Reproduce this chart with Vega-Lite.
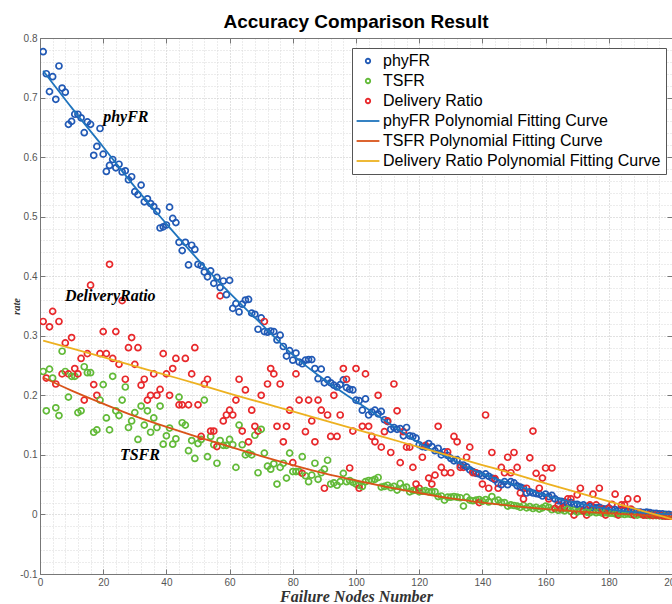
{
  "$schema": "https://vega.github.io/schema/vega-lite/v6.json",
  "width": 632,
  "height": 536,
  "autosize": {"type": "none"},
  "padding": {"left": 40, "top": 38, "right": 0, "bottom": 30},
  "background": "white",
  "title": {"text": "Accuracy Comparison Result", "font": "Liberation Sans", "fontSize": 19, "fontWeight": "bold", "color": "#000000", "anchor": "middle", "offset": 1},
  "config": {"view": {"stroke": null}},
  "datasets": {
    "pts": [
      {"x":1,"phyFR":0.777,"TSFR":0.240,"Delivery Ratio":0.324},
      {"x":2,"phyFR":0.740,"TSFR":0.174,"Delivery Ratio":0.229},
      {"x":3,"phyFR":0.710,"TSFR":0.244,"Delivery Ratio":0.315},
      {"x":4,"phyFR":0.735,"TSFR":0.229,"Delivery Ratio":0.341},
      {"x":5,"phyFR":0.697,"TSFR":0.179,"Delivery Ratio":0.219},
      {"x":6,"phyFR":0.753,"TSFR":0.166,"Delivery Ratio":0.324},
      {"x":7,"phyFR":0.716,"TSFR":0.274,"Delivery Ratio":0.236},
      {"x":8,"phyFR":0.709,"TSFR":0.240,"Delivery Ratio":0.288},
      {"x":9,"phyFR":0.655,"TSFR":0.197,"Delivery Ratio":0.236},
      {"x":10,"phyFR":0.660,"TSFR":0.232,"Delivery Ratio":0.297},
      {"x":11,"phyFR":0.672,"TSFR":0.232,"Delivery Ratio":0.245},
      {"x":12,"phyFR":0.672,"TSFR":0.171,"Delivery Ratio":0.236},
      {"x":13,"phyFR":0.666,"TSFR":0.174,"Delivery Ratio":0.262},
      {"x":14,"phyFR":0.641,"TSFR":0.248,"Delivery Ratio":0.192},
      {"x":15,"phyFR":0.659,"TSFR":0.238,"Delivery Ratio":0.270},
      {"x":16,"phyFR":0.655,"TSFR":0.238,"Delivery Ratio":0.385},
      {"x":17,"phyFR":0.603,"TSFR":0.138,"Delivery Ratio":0.218},
      {"x":18,"phyFR":0.618,"TSFR":0.142,"Delivery Ratio":0.200},
      {"x":19,"phyFR":0.648,"TSFR":0.192,"Delivery Ratio":0.270},
      {"x":20,"phyFR":0.605,"TSFR":0.218,"Delivery Ratio":0.307},
      {"x":21,"phyFR":0.576,"TSFR":0.162,"Delivery Ratio":0.270},
      {"x":22,"phyFR":0.586,"TSFR":0.142,"Delivery Ratio":0.420},
      {"x":23,"phyFR":0.596,"TSFR":0.232,"Delivery Ratio":0.262},
      {"x":24,"phyFR":0.582,"TSFR":0.174,"Delivery Ratio":0.307},
      {"x":25,"phyFR":0.588,"TSFR":0.166,"Delivery Ratio":0.252},
      {"x":26,"phyFR":0.575,"TSFR":0.192,"Delivery Ratio":0.359},
      {"x":27,"phyFR":0.577,"TSFR":0.214,"Delivery Ratio":0.227},
      {"x":28,"phyFR":0.562,"TSFR":0.146,"Delivery Ratio":0.280},
      {"x":29,"phyFR":0.567,"TSFR":0.157,"Delivery Ratio":0.297},
      {"x":30,"phyFR":0.542,"TSFR":0.171,"Delivery Ratio":0.252},
      {"x":31,"phyFR":0.537,"TSFR":0.126,"Delivery Ratio":0.280},
      {"x":32,"phyFR":0.553,"TSFR":0.182,"Delivery Ratio":0.217},
      {"x":33,"phyFR":0.525,"TSFR":0.150,"Delivery Ratio":0.227},
      {"x":34,"phyFR":0.530,"TSFR":0.174,"Delivery Ratio":0.192},
      {"x":35,"phyFR":0.522,"TSFR":0.138,"Delivery Ratio":0.200},
      {"x":36,"phyFR":0.517,"TSFR":0.162,"Delivery Ratio":0.236},
      {"x":37,"phyFR":0.509,"TSFR":0.146,"Delivery Ratio":0.200},
      {"x":38,"phyFR":0.481,"TSFR":0.182,"Delivery Ratio":0.210},
      {"x":39,"phyFR":0.483,"TSFR":0.118,"Delivery Ratio":0.270},
      {"x":40,"phyFR":0.486,"TSFR":0.132,"Delivery Ratio":0.236},
      {"x":41,"phyFR":0.516,"TSFR":0.145,"Delivery Ratio":0.200},
      {"x":42,"phyFR":0.497,"TSFR":0.118,"Delivery Ratio":0.245},
      {"x":43,"phyFR":0.490,"TSFR":0.127,"Delivery Ratio":0.262},
      {"x":44,"phyFR":0.457,"TSFR":0.197,"Delivery Ratio":0.184},
      {"x":45,"phyFR":0.443,"TSFR":0.154,"Delivery Ratio":0.184},
      {"x":46,"phyFR":0.457,"TSFR":0.150,"Delivery Ratio":0.262},
      {"x":47,"phyFR":0.419,"TSFR":0.107,"Delivery Ratio":0.184},
      {"x":48,"phyFR":0.452,"TSFR":0.124,"Delivery Ratio":0.236},
      {"x":49,"phyFR":0.445,"TSFR":0.094,"Delivery Ratio":0.280},
      {"x":50,"phyFR":0.420,"TSFR":0.119,"Delivery Ratio":0.184},
      {"x":51,"phyFR":0.418,"TSFR":0.126,"Delivery Ratio":0.131},
      {"x":52,"phyFR":0.407,"TSFR":0.192,"Delivery Ratio":0.219},
      {"x":53,"phyFR":0.399,"TSFR":0.097,"Delivery Ratio":0.227},
      {"x":54,"phyFR":0.409,"TSFR":0.131,"Delivery Ratio":0.140},
      {"x":55,"phyFR":0.388,"TSFR":0.117,"Delivery Ratio":0.140},
      {"x":56,"phyFR":0.398,"TSFR":0.086,"Delivery Ratio":0.114},
      {"x":57,"phyFR":0.381,"TSFR":0.124,"Delivery Ratio":0.367},
      {"x":58,"phyFR":0.392,"TSFR":0.116,"Delivery Ratio":0.157},
      {"x":59,"phyFR":0.369,"TSFR":0.116,"Delivery Ratio":0.167},
      {"x":60,"phyFR":0.393,"TSFR":0.126,"Delivery Ratio":0.175},
      {"x":61,"phyFR":0.346,"TSFR":0.117,"Delivery Ratio":0.167},
      {"x":62,"phyFR":0.354,"TSFR":0.079,"Delivery Ratio":0.192},
      {"x":63,"phyFR":0.340,"TSFR":0.150,"Delivery Ratio":0.227},
      {"x":64,"phyFR":0.353,"TSFR":0.117,"Delivery Ratio":0.140},
      {"x":65,"phyFR":0.360,"TSFR":0.100,"Delivery Ratio":0.209},
      {"x":66,"phyFR":0.361,"TSFR":0.103,"Delivery Ratio":0.122},
      {"x":67,"phyFR":0.338,"TSFR":0.100,"Delivery Ratio":0.175},
      {"x":68,"phyFR":0.336,"TSFR":0.133,"Delivery Ratio":0.148},
      {"x":69,"phyFR":0.311,"TSFR":0.070,"Delivery Ratio":0.140},
      {"x":70,"phyFR":0.330,"TSFR":0.143,"Delivery Ratio":0.200},
      {"x":71,"phyFR":0.307,"TSFR":0.103,"Delivery Ratio":0.324},
      {"x":72,"phyFR":0.306,"TSFR":0.081,"Delivery Ratio":0.219},
      {"x":73,"phyFR":0.308,"TSFR":0.076,"Delivery Ratio":0.245},
      {"x":74,"phyFR":0.307,"TSFR":0.085,"Delivery Ratio":0.236},
      {"x":75,"phyFR":0.293,"TSFR":0.051,"Delivery Ratio":0.148},
      {"x":76,"phyFR":0.301,"TSFR":0.079,"Delivery Ratio":0.219},
      {"x":77,"phyFR":0.282,"TSFR":0.086,"Delivery Ratio":0.122},
      {"x":78,"phyFR":0.266,"TSFR":0.061,"Delivery Ratio":0.148},
      {"x":79,"phyFR":0.275,"TSFR":0.103,"Delivery Ratio":0.175},
      {"x":80,"phyFR":0.259,"TSFR":0.072,"Delivery Ratio":0.087},
      {"x":81,"phyFR":0.271,"TSFR":0.072,"Delivery Ratio":0.236},
      {"x":82,"phyFR":0.256,"TSFR":0.072,"Delivery Ratio":0.192},
      {"x":83,"phyFR":0.253,"TSFR":0.097,"Delivery Ratio":0.069},
      {"x":84,"phyFR":0.259,"TSFR":0.065,"Delivery Ratio":0.139},
      {"x":85,"phyFR":0.260,"TSFR":0.055,"Delivery Ratio":0.192},
      {"x":86,"phyFR":0.260,"TSFR":0.066,"Delivery Ratio":0.157},
      {"x":87,"phyFR":0.245,"TSFR":0.086,"Delivery Ratio":0.122},
      {"x":88,"phyFR":0.228,"TSFR":0.059,"Delivery Ratio":0.192},
      {"x":89,"phyFR":0.244,"TSFR":0.070,"Delivery Ratio":0.175},
      {"x":90,"phyFR":0.221,"TSFR":0.076,"Delivery Ratio":0.044},
      {"x":91,"phyFR":0.226,"TSFR":0.091,"Delivery Ratio":0.167},
      {"x":92,"phyFR":0.221,"TSFR":0.051,"Delivery Ratio":0.131},
      {"x":93,"phyFR":0.217,"TSFR":0.053,"Delivery Ratio":0.200},
      {"x":94,"phyFR":0.214,"TSFR":0.049,"Delivery Ratio":0.131},
      {"x":95,"phyFR":0.218,"TSFR":0.055,"Delivery Ratio":0.167},
      {"x":96,"phyFR":0.226,"TSFR":0.069,"Delivery Ratio":0.245},
      {"x":97,"phyFR":0.213,"TSFR":0.055,"Delivery Ratio":0.227},
      {"x":98,"phyFR":0.210,"TSFR":0.057,"Delivery Ratio":0.078},
      {"x":99,"phyFR":0.209,"TSFR":0.054,"Delivery Ratio":0.140},
      {"x":100,"phyFR":0.192,"TSFR":0.051,"Delivery Ratio":0.245},
      {"x":101,"phyFR":0.191,"TSFR":0.049,"Delivery Ratio":0.044},
      {"x":102,"phyFR":0.175,"TSFR":0.047,"Delivery Ratio":0.148},
      {"x":103,"phyFR":0.194,"TSFR":0.055,"Delivery Ratio":0.236},
      {"x":104,"phyFR":0.167,"TSFR":0.057,"Delivery Ratio":0.148},
      {"x":105,"phyFR":0.172,"TSFR":0.057,"Delivery Ratio":0.131},
      {"x":106,"phyFR":0.175,"TSFR":0.059,"Delivery Ratio":0.122},
      {"x":107,"phyFR":0.169,"TSFR":0.062,"Delivery Ratio":0.200},
      {"x":108,"phyFR":0.173,"TSFR":0.046,"Delivery Ratio":0.113},
      {"x":109,"phyFR":0.159,"TSFR":0.047,"Delivery Ratio":0.139},
      {"x":110,"phyFR":0.156,"TSFR":0.049,"Delivery Ratio":0.157},
      {"x":111,"phyFR":0.143,"TSFR":0.045,"Delivery Ratio":0.104},
      {"x":112,"phyFR":0.146,"TSFR":0.047,"Delivery Ratio":0.219},
      {"x":113,"phyFR":0.143,"TSFR":0.041,"Delivery Ratio":0.174},
      {"x":114,"phyFR":0.144,"TSFR":0.052,"Delivery Ratio":0.087},
      {"x":115,"phyFR":0.132,"TSFR":0.045,"Delivery Ratio":0.139},
      {"x":116,"phyFR":0.146,"TSFR":0.046,"Delivery Ratio":0.113},
      {"x":117,"phyFR":0.132,"TSFR":0.038,"Delivery Ratio":0.113},
      {"x":118,"phyFR":0.131,"TSFR":0.040,"Delivery Ratio":0.079},
      {"x":119,"phyFR":0.128,"TSFR":0.041,"Delivery Ratio":0.051},
      {"x":120,"phyFR":0.117,"TSFR":0.038,"Delivery Ratio":0.044},
      {"x":121,"phyFR":0.114,"TSFR":0.039,"Delivery Ratio":0.096},
      {"x":122,"phyFR":0.113,"TSFR":0.040,"Delivery Ratio":0.116},
      {"x":123,"phyFR":0.119,"TSFR":0.038,"Delivery Ratio":0.061},
      {"x":124,"phyFR":0.114,"TSFR":0.038,"Delivery Ratio":0.051},
      {"x":125,"phyFR":0.107,"TSFR":0.038,"Delivery Ratio":0.066},
      {"x":126,"phyFR":0.111,"TSFR":0.030,"Delivery Ratio":0.148},
      {"x":127,"phyFR":0.100,"TSFR":0.031,"Delivery Ratio":0.079},
      {"x":128,"phyFR":0.105,"TSFR":0.024,"Delivery Ratio":0.070},
      {"x":129,"phyFR":0.099,"TSFR":0.029,"Delivery Ratio":0.105},
      {"x":130,"phyFR":0.094,"TSFR":0.029,"Delivery Ratio":0.070},
      {"x":131,"phyFR":0.090,"TSFR":0.030,"Delivery Ratio":0.131},
      {"x":132,"phyFR":0.092,"TSFR":0.029,"Delivery Ratio":0.122},
      {"x":133,"phyFR":0.083,"TSFR":0.028,"Delivery Ratio":0.079},
      {"x":134,"phyFR":0.083,"TSFR":0.014,"Delivery Ratio":0.079},
      {"x":135,"phyFR":0.080,"TSFR":0.029,"Delivery Ratio":0.096},
      {"x":136,"phyFR":0.075,"TSFR":0.024,"Delivery Ratio":0.113},
      {"x":137,"phyFR":0.072,"TSFR":0.023,"Delivery Ratio":0.070},
      {"x":138,"phyFR":0.069,"TSFR":0.024,"Delivery Ratio":0.070},
      {"x":139,"phyFR":0.068,"TSFR":0.025,"Delivery Ratio":0.020},
      {"x":140,"phyFR":0.065,"TSFR":0.022,"Delivery Ratio":0.051},
      {"x":141,"phyFR":0.068,"TSFR":0.025,"Delivery Ratio":0.167},
      {"x":142,"phyFR":0.064,"TSFR":0.021,"Delivery Ratio":0.044},
      {"x":143,"phyFR":0.061,"TSFR":0.030,"Delivery Ratio":0.104},
      {"x":144,"phyFR":0.058,"TSFR":0.022,"Delivery Ratio":0.060},
      {"x":145,"phyFR":0.052,"TSFR":0.024,"Delivery Ratio":0.044},
      {"x":146,"phyFR":0.050,"TSFR":0.020,"Delivery Ratio":0.079},
      {"x":147,"phyFR":0.055,"TSFR":0.020,"Delivery Ratio":0.070},
      {"x":148,"phyFR":0.050,"TSFR":0.014,"Delivery Ratio":0.096},
      {"x":149,"phyFR":0.055,"TSFR":0.016,"Delivery Ratio":0.070},
      {"x":150,"phyFR":0.053,"TSFR":0.015,"Delivery Ratio":0.104},
      {"x":151,"phyFR":0.048,"TSFR":0.014,"Delivery Ratio":0.079},
      {"x":152,"phyFR":0.046,"TSFR":0.012,"Delivery Ratio":0.036},
      {"x":153,"phyFR":0.044,"TSFR":0.015,"Delivery Ratio":0.026},
      {"x":154,"phyFR":0.036,"TSFR":0.011,"Delivery Ratio":0.044},
      {"x":155,"phyFR":0.038,"TSFR":0.013,"Delivery Ratio":0.095},
      {"x":156,"phyFR":0.036,"TSFR":0.010,"Delivery Ratio":0.140},
      {"x":157,"phyFR":0.035,"TSFR":0.012,"Delivery Ratio":0.069},
      {"x":158,"phyFR":0.034,"TSFR":0.009,"Delivery Ratio":0.044},
      {"x":159,"phyFR":0.031,"TSFR":0.011,"Delivery Ratio":0.061},
      {"x":160,"phyFR":0.034,"TSFR":0.014,"Delivery Ratio":0.078},
      {"x":161,"phyFR":0.030,"TSFR":0.012,"Delivery Ratio":0.026},
      {"x":162,"phyFR":0.032,"TSFR":0.008,"Delivery Ratio":0.078},
      {"x":163,"phyFR":0.026,"TSFR":0.010,"Delivery Ratio":0.010},
      {"x":164,"phyFR":0.023,"TSFR":0.007,"Delivery Ratio":0.016},
      {"x":165,"phyFR":0.022,"TSFR":0.008,"Delivery Ratio":0.010},
      {"x":166,"phyFR":0.021,"TSFR":0.006,"Delivery Ratio":0.012},
      {"x":167,"phyFR":0.018,"TSFR":0.009,"Delivery Ratio":0.026},
      {"x":168,"phyFR":0.020,"TSFR":0.005,"Delivery Ratio":0.026},
      {"x":169,"phyFR":0.017,"TSFR":0.007,"Delivery Ratio":-0.001},
      {"x":170,"phyFR":0.017,"TSFR":0.004,"Delivery Ratio":0.033},
      {"x":171,"phyFR":0.015,"TSFR":0.006,"Delivery Ratio":0.044},
      {"x":172,"phyFR":0.016,"TSFR":0.005,"Delivery Ratio":0.006},
      {"x":173,"phyFR":0.013,"TSFR":0.004,"Delivery Ratio":-0.001},
      {"x":174,"phyFR":0.014,"TSFR":0.003,"Delivery Ratio":0.016},
      {"x":175,"phyFR":0.012,"TSFR":0.005,"Delivery Ratio":0.034},
      {"x":176,"phyFR":0.011,"TSFR":0.003,"Delivery Ratio":0.016},
      {"x":177,"phyFR":0.012,"TSFR":0.004,"Delivery Ratio":0.044},
      {"x":178,"phyFR":0.010,"TSFR":0.002,"Delivery Ratio":0.009},
      {"x":179,"phyFR":0.009,"TSFR":0.003,"Delivery Ratio":-0.001},
      {"x":180,"phyFR":0.011,"TSFR":0.002,"Delivery Ratio":0.010},
      {"x":181,"phyFR":0.008,"TSFR":0.002,"Delivery Ratio":0.017},
      {"x":182,"phyFR":0.008,"TSFR":0.001,"Delivery Ratio":0.034},
      {"x":183,"phyFR":0.007,"TSFR":0.002,"Delivery Ratio":-0.001},
      {"x":184,"phyFR":0.008,"TSFR":0.001,"Delivery Ratio":0.016},
      {"x":185,"phyFR":0.006,"TSFR":0.000,"Delivery Ratio":0.016},
      {"x":186,"phyFR":0.005,"TSFR":0.001,"Delivery Ratio":0.026},
      {"x":187,"phyFR":0.006,"TSFR":0.000,"Delivery Ratio":0.009},
      {"x":188,"phyFR":0.005,"TSFR":0.000,"Delivery Ratio":-0.001},
      {"x":189,"phyFR":0.004,"TSFR":-0.001,"Delivery Ratio":0.026},
      {"x":190,"phyFR":0.004,"TSFR":0.000,"Delivery Ratio":0.003},
      {"x":191,"phyFR":0.003,"TSFR":-0.001,"Delivery Ratio":-0.001},
      {"x":192,"phyFR":0.004,"TSFR":-0.001,"Delivery Ratio":-0.001},
      {"x":193,"phyFR":0.003,"TSFR":-0.002,"Delivery Ratio":0.000},
      {"x":194,"phyFR":0.002,"TSFR":-0.001,"Delivery Ratio":-0.002},
      {"x":195,"phyFR":0.002,"TSFR":-0.002,"Delivery Ratio":-0.001},
      {"x":196,"phyFR":0.001,"TSFR":-0.002,"Delivery Ratio":-0.002},
      {"x":197,"phyFR":0.001,"TSFR":-0.003,"Delivery Ratio":-0.002},
      {"x":198,"phyFR":0.000,"TSFR":-0.002,"Delivery Ratio":-0.003},
      {"x":199,"phyFR":0.000,"TSFR":-0.003,"Delivery Ratio":-0.003},
      {"x":200,"phyFR":-0.001,"TSFR":-0.003,"Delivery Ratio":-0.003}
    ],
    "fit": [
      {"x":1,"phyFR Polynomial Fitting Curve":0.745,"TSFR Polynomial Fitting Curve":0.230,"Delivery Ratio Polynomial Fitting Curve":0.292},
      {"x":10,"phyFR Polynomial Fitting Curve":0.683,"TSFR Polynomial Fitting Curve":0.208,"Delivery Ratio Polynomial Fitting Curve":0.279},
      {"x":20,"phyFR Polynomial Fitting Curve":0.617,"TSFR Polynomial Fitting Curve":0.186,"Delivery Ratio Polynomial Fitting Curve":0.264},
      {"x":30,"phyFR Polynomial Fitting Curve":0.550,"TSFR Polynomial Fitting Curve":0.165,"Delivery Ratio Polynomial Fitting Curve":0.249},
      {"x":40,"phyFR Polynomial Fitting Curve":0.488,"TSFR Polynomial Fitting Curve":0.147,"Delivery Ratio Polynomial Fitting Curve":0.234},
      {"x":50,"phyFR Polynomial Fitting Curve":0.428,"TSFR Polynomial Fitting Curve":0.130,"Delivery Ratio Polynomial Fitting Curve":0.219},
      {"x":60,"phyFR Polynomial Fitting Curve":0.372,"TSFR Polynomial Fitting Curve":0.114,"Delivery Ratio Polynomial Fitting Curve":0.203},
      {"x":70,"phyFR Polynomial Fitting Curve":0.320,"TSFR Polynomial Fitting Curve":0.098,"Delivery Ratio Polynomial Fitting Curve":0.188},
      {"x":80,"phyFR Polynomial Fitting Curve":0.268,"TSFR Polynomial Fitting Curve":0.083,"Delivery Ratio Polynomial Fitting Curve":0.173},
      {"x":90,"phyFR Polynomial Fitting Curve":0.226,"TSFR Polynomial Fitting Curve":0.069,"Delivery Ratio Polynomial Fitting Curve":0.158},
      {"x":100,"phyFR Polynomial Fitting Curve":0.190,"TSFR Polynomial Fitting Curve":0.057,"Delivery Ratio Polynomial Fitting Curve":0.143},
      {"x":110,"phyFR Polynomial Fitting Curve":0.155,"TSFR Polynomial Fitting Curve":0.046,"Delivery Ratio Polynomial Fitting Curve":0.128},
      {"x":120,"phyFR Polynomial Fitting Curve":0.120,"TSFR Polynomial Fitting Curve":0.036,"Delivery Ratio Polynomial Fitting Curve":0.113},
      {"x":130,"phyFR Polynomial Fitting Curve":0.093,"TSFR Polynomial Fitting Curve":0.027,"Delivery Ratio Polynomial Fitting Curve":0.098},
      {"x":140,"phyFR Polynomial Fitting Curve":0.068,"TSFR Polynomial Fitting Curve":0.020,"Delivery Ratio Polynomial Fitting Curve":0.083},
      {"x":150,"phyFR Polynomial Fitting Curve":0.050,"TSFR Polynomial Fitting Curve":0.014,"Delivery Ratio Polynomial Fitting Curve":0.068},
      {"x":160,"phyFR Polynomial Fitting Curve":0.032,"TSFR Polynomial Fitting Curve":0.009,"Delivery Ratio Polynomial Fitting Curve":0.052},
      {"x":170,"phyFR Polynomial Fitting Curve":0.019,"TSFR Polynomial Fitting Curve":0.005,"Delivery Ratio Polynomial Fitting Curve":0.037},
      {"x":180,"phyFR Polynomial Fitting Curve":0.009,"TSFR Polynomial Fitting Curve":0.002,"Delivery Ratio Polynomial Fitting Curve":0.022},
      {"x":190,"phyFR Polynomial Fitting Curve":0.003,"TSFR Polynomial Fitting Curve":-0.001,"Delivery Ratio Polynomial Fitting Curve":0.007},
      {"x":200,"phyFR Polynomial Fitting Curve":0.000,"TSFR Polynomial Fitting Curve":-0.004,"Delivery Ratio Polynomial Fitting Curve":-0.008}
    ],
    "ann": [
      {"x":20,"y":0.667,"t":"phyFR"},
      {"x":7.9,"y":0.367,"t":"DeliveryRatio"},
      {"x":25.3,"y":0.1,"t":"TSFR"}
    ]
  },
  "layer": [
    {
      "data": {"name": "pts"},
      "transform": [{"fold": ["phyFR", "TSFR", "Delivery Ratio"], "as": ["series", "y"]}],
      "mark": {"type": "point", "filled": false, "size": 36, "strokeWidth": 1.7, "opacity": 1, "clip": true},
      "encoding": {
        "x": {"field": "x", "type": "quantitative",
          "scale": {"domain": [0, 200], "nice": false, "zero": false},
          "axis": {"orient": "bottom",
            "values": [0,4,8,12,16,20,24,28,32,36,40,44,48,52,56,60,64,68,72,76,80,84,88,92,96,100,104,108,112,116,120,124,128,132,136,140,144,148,152,156,160,164,168,172,176,180,184,188,192,196,200],
            "grid": true, "gridDash": [1, 2], "gridWidth": 1,
            "gridColor": {"condition": {"test": "datum.value % 20 === 0", "value": "#c2c2c2"}, "value": "#d8d8d8"},
            "tickOpacity": {"condition": {"test": "datum.value % 20 === 0", "value": 1}, "value": 0},
            "tickSize": -5, "tickColor": "#777777",
            "labelExpr": "datum.value % 20 === 0 ? datum.label : ''",
            "labelFlush": false, "labelOverlap": false,
            "labelFont": "Liberation Sans", "labelFontSize": 10, "labelColor": "#555555", "labelPadding": 8,
            "domainColor": "#777777",
            "title": "Failure Nodes Number", "titleFont": "Liberation Serif", "titleFontSize": 16, "titleFontStyle": "italic", "titleFontWeight": "bold", "titleColor": "#333333", "titlePadding": 1}},
        "y": {"field": "y", "type": "quantitative",
          "scale": {"domain": [-0.1, 0.8], "nice": false, "zero": false},
          "axis": {"orient": "left",
            "values": [-0.1,-0.08,-0.06,-0.04,-0.02,0,0.02,0.04,0.06,0.08,0.1,0.12,0.14,0.16,0.18,0.2,0.22,0.24,0.26,0.28,0.3,0.32,0.34,0.36,0.38,0.4,0.42,0.44,0.46,0.48,0.5,0.52,0.54,0.56,0.58,0.6,0.62,0.64,0.66,0.68,0.7,0.72,0.74,0.76,0.78,0.8],
            "grid": true, "gridDash": [1, 2], "gridWidth": 1,
            "gridColor": {"condition": {"test": "abs(datum.value*10 - round(datum.value*10)) < 0.001", "value": "#c2c2c2"}, "value": "#d8d8d8"},
            "tickOpacity": {"condition": {"test": "abs(datum.value*10 - round(datum.value*10)) < 0.001", "value": 1}, "value": 0},
            "tickSize": -5, "tickColor": "#777777",
            "labelExpr": "abs(datum.value*10 - round(datum.value*10)) < 0.001 ? (datum.value < -0.05 ? '-0.1' : (abs(datum.value) < 0.001 ? '0' : format(datum.value, '.1f'))) : ''",
            "labelFlush": false, "labelOverlap": false,
            "labelFont": "Liberation Sans", "labelFontSize": 10, "labelColor": "#555555", "labelPadding": 8,
            "domainColor": "#777777",
            "title": "rate", "titleFont": "Liberation Serif", "titleFontSize": 10.5, "titleFontStyle": "italic", "titleFontWeight": "bold", "titleColor": "#333333", "titlePadding": -2}},
        "color": {"field": "series", "type": "nominal",
          "scale": {"domain": ["phyFR", "TSFR", "Delivery Ratio", "phyFR Polynomial Fitting Curve", "TSFR Polynomial Fitting Curve", "Delivery Ratio Polynomial Fitting Curve"],
                    "range": ["#2159b5", "#62ba38", "#e8282b", "#1f74bd", "#d95319", "#edb120"]},
          "legend": {"title": null, "orient": "none", "legendX": 312, "legendY": 10, "direction": "vertical",
            "fillColor": "white", "strokeColor": "#555555", "padding": 5,
            "labelFont": "Liberation Sans", "labelFontSize": 16, "labelColor": "#000000", "labelLimit": 400,
            "symbolSize": 20, "symbolStrokeWidth": 1.8, "symbolOffset": 3, "labelOffset": 7, "rowPadding": 4}},
        "shape": {"field": "series", "type": "nominal",
          "scale": {"domain": ["phyFR", "TSFR", "Delivery Ratio", "phyFR Polynomial Fitting Curve", "TSFR Polynomial Fitting Curve", "Delivery Ratio Polynomial Fitting Curve"],
                    "range": ["circle", "circle", "circle", "M-5.1,0L5.1,0", "M-5.1,0L5.1,0", "M-5.1,0L5.1,0"]}}
      }
    },
    {
      "data": {"name": "fit"},
      "transform": [{"fold": ["phyFR Polynomial Fitting Curve", "TSFR Polynomial Fitting Curve", "Delivery Ratio Polynomial Fitting Curve"], "as": ["series", "y"]}],
      "mark": {"type": "line", "strokeWidth": 1.8, "interpolate": "monotone", "clip": true},
      "encoding": {
        "x": {"field": "x", "type": "quantitative",
          "axis": {"orient": "top", "values": [0,20,40,60,80,100,120,140,160,180,200], "labels": false, "grid": false, "tickSize": -5, "tickColor": "#777777", "domainColor": "#777777", "title": null}},
        "y": {"field": "y", "type": "quantitative",
          "axis": {"orient": "right", "values": [-0.1,0,0.1,0.2,0.3,0.4,0.5,0.6,0.7,0.8], "labels": false, "grid": false, "tickSize": -5, "tickColor": "#777777", "domainColor": "#777777", "title": null}},
        "stroke": {"field": "series", "type": "nominal",
          "scale": {"domain": ["phyFR Polynomial Fitting Curve", "TSFR Polynomial Fitting Curve", "Delivery Ratio Polynomial Fitting Curve"], "range": ["#1f74bd", "#d95319", "#edb120"]},
          "legend": null}
      }
    },
    {
      "data": {"name": "ann"},
      "mark": {"type": "text", "font": "Liberation Serif", "fontSize": 16, "fontStyle": "italic", "fontWeight": "bold", "align": "left", "baseline": "middle", "color": "#000000"},
      "encoding": {
        "x": {"field": "x", "type": "quantitative", "axis": null},
        "y": {"field": "y", "type": "quantitative", "axis": null},
        "text": {"field": "t"}
      }
    }
  ],
  "resolve": {"axis": {"x": "independent", "y": "independent"}}
}
